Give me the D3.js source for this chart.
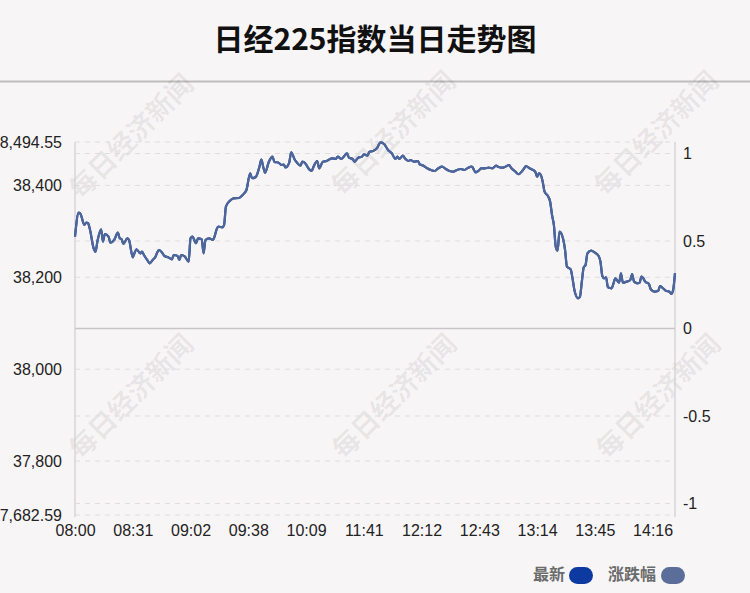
<!DOCTYPE html>
<html>
<head>
<meta charset="utf-8">
<script src="https://cdn.jsdelivr.net/npm/d3@7"></script>
<style>
  html, body { margin: 0; padding: 0; background: #f8f5f7; }
  svg { display: block; }
</style>
</head>
<body>
<div id="chart"></div>
<script>
// ---------- data ----------
const title = "日经225指数当日走势图";
const prevClose = 38088.57;
const priceTicks = [37682.59, 37800, 38000, 38200, 38400, 38494.55];
const pctTicks = [-1, -0.5, 0, 0.5, 1];
const timeLabels = ["08:00","08:31","09:02","09:38","10:09","11:41","12:12","12:43","13:14","13:45","14:16"];
const timeLabelIdx = [0, 31, 62, 93, 124, 155, 186, 217, 248, 279, 310];
const lastIdx = 322;
const legendNames = ["最新", "涨跌幅"];
const minuteIdx = [0,2,3,5,6,7,8,10,11,12,14,15,16,18,19,21,23,24,25,26,28,29,31,32,33,35,36,37,39,40,42,43,45,47,48,50,52,53,55,56,57,59,61,62,63,65,66,68,69,70,72,74,75,76,77,79,80,81,83,85,88,90,91,92,94,95,97,99,100,101,102,104,106,107,109,111,112,113,115,116,118,119,121,122,124,125,127,128,130,131,133,135,136,138,140,141,143,145,146,147,149,150,152,154,155,157,158,160,162,164,166,168,170,172,173,174,176,177,179,180,182,184,185,187,189,191,193,195,197,199,201,203,205,207,209,211,213,215,217,218,220,222,224,226,227,229,231,233,234,236,238,240,241,242,244,245,247,248,249,250,251,252,254,255,256,257,258,259,260,262,263,264,266,267,268,270,271,272,273,274,275,277,279,281,282,283,284,285,286,288,289,290,291,292,293,294,296,298,299,300,302,303,304,305,306,308,309,311,313,314,315,317,319,320,321,322];
const prices = [38288.4,38340.7,38337.8,38313.9,38318.9,38317.6,38304.5,38263.2,38255.8,38277.5,
38304.5,38277.5,38294.3,38288.4,38275.4,38281.2,38297.1,38284.9,38282.8,38272.5,
38284.9,38281.2,38243.6,38253.6,38261.0,38252.3,38255.8,38248.6,38236.2,38230.5,
38239.2,38243.6,38259.5,38252.3,38246.4,38243.6,38239.2,38248.6,38246.4,38237.7,
38248.6,38244.9,38234.0,38284.9,38288.4,38274.1,38284.9,38282.8,38252.3,38281.2,
38284.9,38281.2,38290.0,38304.5,38310.2,38308.9,38313.9,38353.7,38366.1,38372.0,
38372.7,38379.2,38383.6,38390.1,38426.4,38415.6,38418.4,38440.8,38456.5,38440.8,
38427.7,38451.0,38462.6,38451.0,38449.9,38444.5,38445.6,38439.1,38450.4,38472.2,
38455.4,38450.4,38443.0,38451.7,38446.0,38438.6,38431.4,38440.8,38453.2,38437.3,
38451.7,38453.2,38455.4,38459.1,38457.6,38462.6,38457.6,38466.3,38470.0,38460.4,
38457.6,38451.7,38460.4,38462.6,38467.8,38464.8,38473.5,38475.0,38480.9,38493.9,
38489.6,38477.2,38470.0,38457.6,38462.6,38457.6,38464.8,38459.1,38453.2,38455.4,
38451.7,38453.2,38446.0,38443.0,38437.3,38433.6,38431.4,38437.3,38440.8,38435.8,
38431.4,38429.9,38433.6,38435.8,38433.6,38438.6,38440.8,38428.6,38433.6,38437.3,
38437.3,38438.6,38437.3,38443.0,38440.8,38438.6,38440.8,38444.5,38438.6,38431.4,
38424.3,38431.4,38436.9,38442.3,38437.3,38435.1,38429.9,38419.0,38426.4,38422.7,
38408.2,38386.4,38375.5,38364.6,38335.7,38313.9,38266.7,38258.0,38299.3,38282.8,
38259.5,38223.1,38217.5,38197.9,38172.4,38154.3,38157.8,38190.5,38221.8,38226.8,
38252.3,38258.0,38253.6,38246.4,38234.0,38202.9,38197.9,38200.1,38178.3,38176.1,
38187.0,38197.9,38192.7,38188.3,38208.8,38188.3,38190.5,38194.2,38207.2,38190.5,
38187.0,38188.3,38201.4,38197.9,38190.5,38185.5,38173.9,38168.7,38170.9,38181.1,
38178.3,38170.9,38168.7,38163.7,38172.4,38209.4];

// ---------- layout ----------
const W = 750, H = 593;
const L = 75, R = 675, T = 142, B = 515;
const colPrice = "#0c3aa1", colPct = "#4f6699";

const svg = d3.select("#chart").append("svg").attr("width", W).attr("height", H);
svg.append("rect").attr("width", W).attr("height", H).attr("fill", "#f8f5f7");

// title
svg.append("text").attr("x", W / 2).attr("y", 50).attr("text-anchor", "middle")
  .attr("font-family", "'Noto Sans CJK SC', sans-serif").attr("font-weight", "bold")
  .attr("font-size", 30).attr("fill", "#111").text(title);
svg.append("line").attr("x1", 0).attr("x2", W).attr("y1", 81.5).attr("y2", 81.5)
  .attr("stroke", "#bdbdbd").attr("stroke-width", 2);

// watermarks
const wm = svg.append("g");
[[130, 135], [392, 132], [655, 132], [130, 395], [393, 395], [657, 395]].forEach(([cx, cy]) => {
  wm.append("text").attr("transform", `translate(${cx},${cy}) rotate(-45)`)
    .attr("text-anchor", "middle").attr("dominant-baseline", "central")
    .attr("font-family", "'Noto Sans CJK SC', sans-serif").attr("font-weight", "bold")
    .attr("font-size", 27).attr("fill", "rgba(0,0,0,0.075)").text("每日经济新闻");
});

// scales
const data = minuteIdx.slice(0, Math.min(minuteIdx.length, prices.length)).map((m, i) => ({ m, p: prices[i], pct: (prices[i] - prevClose) / prevClose * 100 }));
const x = d3.scaleLinear().domain([0, lastIdx]).range([L, R]);
const yP = d3.scaleLinear().domain([priceTicks[0], priceTicks[priceTicks.length - 1]]).range([B, T]);
const pctMax = (priceTicks[priceTicks.length - 1] - prevClose) / prevClose * 100;
const yR = d3.scaleLinear().domain([-pctMax, pctMax]).range([B, T]);

// gridlines
const grid = svg.append("g");
priceTicks.forEach(v => grid.append("line").attr("x1", L).attr("x2", R).attr("y1", yP(v)).attr("y2", yP(v))
  .attr("stroke", "#e0dcdf").attr("stroke-dasharray", "5,5"));
pctTicks.filter(v => v !== 0).forEach(v => grid.append("line").attr("x1", L).attr("x2", R).attr("y1", yR(v)).attr("y2", yR(v))
  .attr("stroke", "#e0dcdf").attr("stroke-dasharray", "5,5"));
// vertical axis lines
[L, R].forEach(px => grid.append("line").attr("x1", px).attr("x2", px).attr("y1", T).attr("y2", B + 2)
  .attr("stroke", "#d0cdd0").attr("stroke-width", 1.2));
// zero line
grid.append("line").attr("x1", L).attr("x2", R).attr("y1", yR(0)).attr("y2", yR(0))
  .attr("stroke", "#c8c5c8").attr("stroke-width", 1.5);

// axes
const fmtP = v => (Math.round(v) === v ? d3.format(",")(v) : d3.format(",.2f")(v));
const axL = svg.append("g").attr("transform", `translate(${L - 13},0)`)
  .call(d3.axisLeft(yP).tickValues(priceTicks).tickFormat(fmtP).tickSize(0).tickPadding(0));
const axR = svg.append("g").attr("transform", `translate(${R + 8},0)`)
  .call(d3.axisRight(yR).tickValues(pctTicks).tickFormat(v => String(v)).tickSize(0).tickPadding(0));
const xTickMap = new Map(timeLabelIdx.map((v, i) => [v, timeLabels[i]]));
const axB = svg.append("g").attr("transform", `translate(0,${B + 2})`)
  .call(d3.axisBottom(x).tickValues(timeLabelIdx).tickFormat(v => xTickMap.get(v)).tickSize(0).tickPadding(8));
[axL, axR, axB].forEach(a => {
  a.select(".domain").remove();
  a.selectAll("text").attr("font-family", "'Liberation Sans', Arial, sans-serif").attr("font-size", 16).attr("fill", "#222");
});

// lines
const linePrice = d3.line().x(d => x(d.m)).y(d => yP(d.p)).curve(d3.curveMonotoneX);
const linePct = d3.line().x(d => x(d.m)).y(d => yR(d.pct)).curve(d3.curveMonotoneX);
svg.append("path").datum(data).attr("d", linePrice).attr("fill", "none")
  .attr("stroke", colPrice).attr("stroke-width", 2.2).attr("stroke-linejoin", "round");
svg.append("path").datum(data).attr("d", linePct).attr("fill", "none")
  .attr("stroke", colPct).attr("stroke-width", 2.2).attr("stroke-linejoin", "round");

// legend
const lg = svg.append("g").attr("font-family", "'Noto Sans CJK SC', sans-serif");
const legendItems = [{ name: legendNames[0], c: colPrice, tx: 533, rx: 569 }, { name: legendNames[1], c: "#5b6d99", tx: 608, rx: 661 }];
legendItems.forEach(it => {
  lg.append("text").attr("x", it.tx).attr("y", 580).attr("font-size", 16).attr("font-weight", "bold")
    .attr("fill", "#6b6b6b").text(it.name);
  lg.append("rect").attr("x", it.rx).attr("y", 567).attr("width", 24).attr("height", 17).attr("rx", 8.5)
    .attr("fill", it.c);
});
</script>
</body>
</html>
